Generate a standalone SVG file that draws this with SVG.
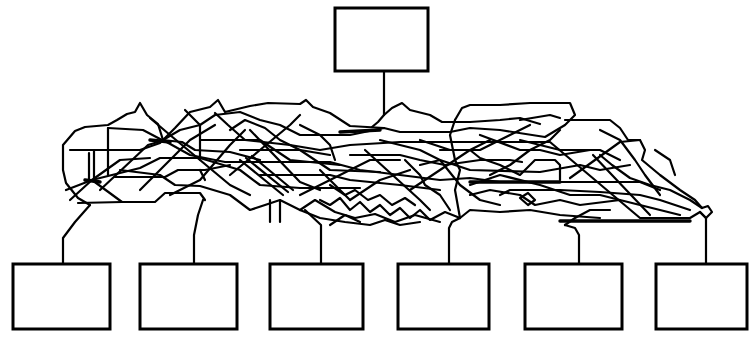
<svg xmlns="http://www.w3.org/2000/svg" width="749" height="337" viewBox="0 0 749 337">
<style>
.node rect{fill:#fff;stroke:#000;stroke-width:3}
.edges path{fill:none;stroke:#000;stroke-width:2.2;stroke-linejoin:round;stroke-linecap:round}
.edges .hv{stroke-width:3.4}
</style>
<rect width="749" height="337" fill="#fff"/>
<g id="connectors" class="edges">
<path d="M384,71 V115"/>
<path d="M63,263 V238 L75,222 L90,205"/>
<path d="M194,263 V235 L198,215 L203,200"/>
<path d="M321,263 V225 L305,210"/>
<path d="M449,263 V228 L452,222 L460,218"/>
<path d="M579,263 V235 L575,228 L565,225"/>
<path d="M706,263 V218"/>
<path d="M90,205 L78,198 L66,183 L63,170 L63,145 L75,131 L85,127 L108,125 L117,120 L127,114 L135,112 L140,103 L147,115 L158,124 L163,140"/>
<path d="M108,128 L143,130 L162,140 L182,142 L195,150 L230,152 L260,160"/>
<path d="M108,128 V175"/>
<path d="M89,153 V180 M94,150 V178"/>
<path d="M70,150 L140,150 L160,143 L175,128 L190,112 L210,107 L218,100 L225,112 L250,106 L268,103 L300,104 L306,100 L313,107 L330,113 L350,126 L384,128"/>
<path d="M92,180 L122,202 L155,202 L165,193 L200,193 L205,200"/>
<path d="M78,203 L122,202"/>
<path d="M100,190 L148,145 L158,142"/>
<path d="M115,177 L165,177 L178,170 L205,170 L230,165"/>
<path d="M66,190 L92,180 L140,168 L160,158 L200,158 L240,170 L260,185 L300,188 L360,188"/>
<path d="M70,200 L92,180 L120,160 L150,158"/>
<path d="M120,170 L160,175 L175,185 L200,186 L230,195 L250,210 L265,205 L280,200 L300,210 L320,218 L345,222 L370,225 L385,220 L400,225 L420,222"/>
<path d="M163,140 L190,155 L225,162 L330,162 L360,170 L400,175 L440,180 L470,178 L500,182 L640,182 L660,190"/>
<path d="M163,140 L180,130 L200,125 L215,115 L240,112 L260,120 L280,125 L300,135 L350,135 L384,128 L400,132 L450,132 L470,128 L500,130 L545,137 L565,125 L575,115 L570,103 L530,103 L500,105 L470,105 L462,108 L455,120"/>
<path d="M250,130 L300,182 L320,190"/>
<path d="M240,160 L283,195 M246,158 L288,192 M252,156 L293,190"/>
<path d="M270,200 V222 M280,200 V222"/>
<path d="M215,113 L228,125 L245,140 L290,145 L320,150 L350,145 L400,142 L450,142 L510,142 L550,142 L640,218 L690,218 L700,212 L706,218"/>
<path d="M372,127 L378,122 L384,115 L392,108 L402,103 L410,110 L430,115 L442,122 L470,122 L500,120 L520,118 L540,124"/>
<path d="M365,150 L420,200 L430,210"/>
<path d="M350,155 L400,155 L420,160 L445,165 L480,160 L510,160 L522,162"/>
<path d="M320,200 L330,205 L340,198 L350,210 L360,202 L370,212 L380,205 L390,215 L400,208 L410,218 L420,210 L430,220 L445,212 L460,218"/>
<path d="M330,185 L345,195 L355,190 L368,200 L380,195 L392,205 L405,198 L415,205"/>
<path d="M440,150 L470,150 L480,158 L500,165 L520,175 L535,160 L555,160 L560,165 L560,180"/>
<path d="M565,120 L610,120 L620,128 L628,140 L640,140 L645,150 L642,160 L660,175 L680,190 L695,200 L702,208 L708,206 L712,212 L706,218 L700,212"/>
<path d="M570,178 L620,142 L640,140"/>
<path d="M593,155 L650,215"/>
<path d="M600,155 L612,165 L630,178 L650,185 L670,190 L690,200 L702,208"/>
<path d="M460,218 L470,210 L500,212 L530,210 L560,215 L600,218"/>
<path d="M470,195 L490,190 L520,195 L535,205 L560,200 L580,205 L620,200"/>
<path d="M455,120 L450,135 L455,160 L460,170 L455,190 L460,218"/>
<path d="M490,175 L510,165 L530,150 L550,140 L560,130"/>
<path d="M420,165 L440,160 L460,185 L480,200 L500,205"/>
<path d="M380,140 L420,150 L440,160 L470,170 L540,172 L580,165 L600,170 L630,165"/>
<path d="M500,195 L510,190 L530,190 L560,190 L600,192 L640,195 L660,200 L690,210"/>
<path d="M565,225 L575,218 L590,210 L610,210"/>
<path d="M520,198 L528,205 L535,200 L528,193 Z"/>
<path d="M150,118 L170,135 L200,160 L230,185 L250,195"/>
<path d="M185,110 L200,125 L200,160 M200,170 L205,180"/>
<path d="M230,130 L245,120 L265,128 L280,140 L300,150 L330,155"/>
<path d="M300,125 L320,135 L330,145 L335,160"/>
<path d="M405,160 L420,175 L425,185 L440,195 L450,210"/>
<path d="M480,135 L520,150 L540,150 L560,155 L590,150"/>
<path d="M520,120 L550,115 L560,118"/>
<path d="M655,150 L670,160 L675,175"/>
<path d="M240,150 L300,150 L330,170 L380,172"/>
<path d="M200,140 L260,140 L290,160 L340,165"/>
<path d="M260,175 L330,175 L350,180 L400,185 L440,190"/>
<path d="M300,195 L340,175 L370,160 L400,160"/>
<path d="M410,190 L440,170 L470,150 L490,140"/>
<path d="M420,140 L450,150 L480,150 L500,140 L530,125"/>
<path d="M230,175 L260,150 L290,125 L300,115"/>
<path d="M170,195 L200,180 L230,145 L245,130"/>
<path d="M140,190 L165,165 L190,140 L215,125"/>
<path d="M470,185 L500,175 L540,185 L570,195 L600,195 L640,205 L680,215"/>
<path d="M600,130 L620,140 L635,160 L645,175 L660,195"/>
<path d="M520,140 L560,150 L600,150 L620,160"/>
<path d="M350,200 L380,180 L410,170"/>
<path d="M320,170 L350,200"/>
<path d="M300,210 L315,200 L335,212 L355,218 L375,214 L395,222 L415,215 L440,222"/>
<path d="M330,225 L345,215 L360,222"/>
<path class="hv" d="M560,221 L690,221"/>
<path class="hv" d="M340,132 L380,130 M470,182 L560,182 M150,140 L170,142 M85,180 L100,182"/>
</g>
<g id="top" class="node"><rect x="335" y="8" width="93" height="63"/></g>
<g id="b1" class="node"><rect x="13" y="264" width="97" height="65"/></g>
<g id="b2" class="node"><rect x="140" y="264" width="97" height="65"/></g>
<g id="b3" class="node"><rect x="270" y="264" width="93" height="65"/></g>
<g id="b4" class="node"><rect x="398" y="264" width="91" height="65"/></g>
<g id="b5" class="node"><rect x="525" y="264" width="97" height="65"/></g>
<g id="b6" class="node"><rect x="656" y="264" width="91" height="65"/></g>
</svg>
